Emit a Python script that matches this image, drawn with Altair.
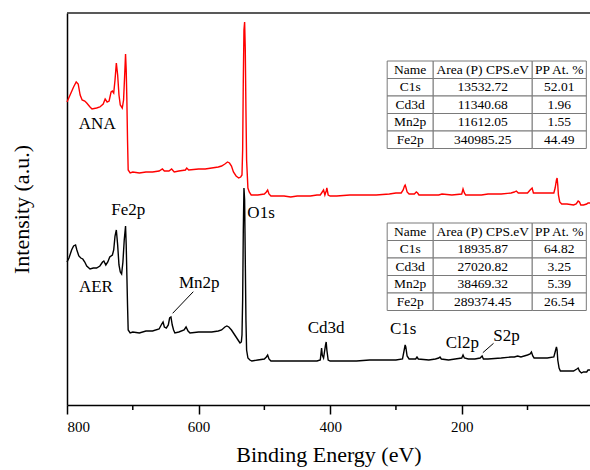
import altair as alt
import pandas as pd

# ---------------- data ----------------
be_ana = [800, 796, 790, 786, 783, 780, 777, 773, 770, 765, 762, 755, 750, 745, 742, 739, 736, 733, 731, 729,
          727, 725, 723, 721, 719, 716, 714, 712, 711, 710, 709, 708, 707, 704, 700, 690, 680, 670, 660, 655,
          652, 645, 641, 637, 630, 620, 618, 615, 600, 590, 580, 570, 565, 560, 556, 553, 550, 547, 543, 539,
          536, 534, 533, 532, 531, 530, 529, 528, 527, 525, 523, 520, 510, 500, 497, 495, 493, 490, 480, 470,
          460, 450, 440, 430, 420, 415, 412, 410, 408, 406, 405, 403, 400, 390, 370, 350, 330, 310, 300, 292,
          289, 287, 286, 285, 283, 280, 272, 269, 267, 265, 250, 235, 230, 215, 200, 198, 196, 194, 180, 170,
          160, 140, 125, 120, 117, 114, 100, 96, 93, 91, 80, 70, 60, 58, 56, 55, 54, 53, 51, 48,
          40, 30, 26, 23, 21, 19, 15, 10, 8, 5]
i_ana = [303, 309, 318, 323, 321, 310, 305, 304, 302, 298, 296, 297, 298, 301, 306, 303, 304, 313, 314, 312,
         325, 342, 330, 310, 300, 297, 305, 335, 351, 335, 305, 265, 235, 232, 233, 232, 233, 233, 234, 236,
         234, 234, 236, 233, 234, 235, 237, 235, 236, 236, 237, 238, 239, 241, 243, 242, 239, 233, 229, 227,
         228, 230, 255, 325, 375, 383, 355, 295, 245, 217, 213, 210, 210, 211, 213, 215, 211, 209, 209, 209,
         208, 209, 209, 209, 210, 210, 213, 215, 210, 214, 217, 210, 209, 209, 210, 210, 210, 211, 212, 212,
         215, 219, 220, 218, 213, 211, 211, 213, 212, 210, 210, 210, 211, 210, 211, 216, 212, 210, 210, 210,
         211, 211, 212, 213, 214, 212, 212, 215, 217, 212, 212, 212, 212, 217, 225, 227, 220, 210, 203, 201,
         201, 200, 201, 204, 203, 200, 200, 201, 202, 202]

be_aer = [800, 797, 793, 790, 787, 785, 782, 779, 776, 773, 770, 765, 760, 755, 750, 746, 744, 741, 738, 735,
          731, 729, 727, 725, 723, 721, 719, 717, 715, 713, 711, 710, 709, 708, 707, 704, 700, 690, 680, 670,
          660, 656, 654, 652, 649, 646, 644, 642, 640, 638, 636, 630, 622, 619, 616, 613, 600, 590, 580, 570,
          565, 560, 557, 554, 550, 546, 542, 539, 537, 535, 534, 533, 532, 531, 530, 529, 528, 527, 525, 522,
          519, 510, 500, 497, 495, 493, 490, 480, 460, 440, 420, 415, 413, 412, 410, 407, 406, 405, 403, 400,
          380, 360, 340, 320, 300, 290, 288, 286, 285, 283, 280, 270, 268, 266, 250, 240, 235, 233, 231, 220,
          210, 200, 198, 196, 190, 180, 172, 169, 167, 160, 140, 125, 120, 115, 110, 100, 96, 94, 92, 90,
          80, 70, 60, 58, 56, 55, 54, 52, 50, 45, 40, 30, 25, 23, 21, 18, 15, 10, 8, 5]
i_aer = [143, 147, 155, 159, 160, 155, 149, 147, 146, 143, 139, 136, 137, 137, 139, 143, 144, 140, 143, 148,
         150, 155, 169, 175, 160, 140, 133, 131, 143, 165, 179, 160, 130, 100, 75, 72, 73, 72, 74, 74,
         76, 81, 83, 78, 77, 80, 87, 88, 80, 75, 72, 73, 75, 78, 74, 72, 73, 73, 73, 74,
         75, 78, 79, 78, 75, 71, 67, 64, 62, 63, 70, 105, 175, 217, 205, 145, 85, 55, 47, 45,
         44, 45, 46, 48, 50, 46, 44, 44, 44, 44, 44, 45, 57, 50, 47, 60, 63, 55, 45, 44,
         44, 44, 45, 45, 45, 46, 53, 60, 58, 49, 46, 46, 48, 46, 45, 46, 47, 48, 46, 45,
         46, 47, 50, 47, 46, 46, 47, 49, 46, 46, 47, 48, 48, 49, 48, 50, 51, 53, 49, 47,
         47, 47, 48, 53, 58, 55, 45, 37, 34, 34, 34, 34, 36, 37, 34, 32, 33, 33, 35, 35]

# peak labels
lab_text = ["ANA", "AER", "Fe2p", "O1s", "Mn2p", "Cd3d", "C1s", "Cl2p", "S2p"]
lab_be = [754, 756, 707, 505, 599, 406, 289, 199, 132]
lab_i = [281, 118, 195, 192, 122, 77, 76, 62, 69]

# leader lines (Mn2p, S2p)
lead_be = [608, 151.6]
lead_be2 = [639.4, 167.9]
lead_i = [113.3, 61.7]
lead_i2 = [91.7, 52.3]

# tables
tab_header = ["Name", "Area (P) CPS.eV", "PP At. %"]
tab_names = ["C1s", "Cd3d", "Mn2p", "Fe2p"]
ana_area = [13532.72, 11340.68, 11612.05, 340985.25]
ana_pp = [52.01, 1.96, 1.55, 44.49]
aer_area = [18935.87, 27020.82, 38469.32, 289374.45]
aer_pp = [64.82, 3.25, 5.39, 26.54]

minor_ticks = [700, 500, 300, 100]

# ---------------- layout constants ----------------
W, H = 523, 392
col_edges = [313.3, 243.3, 92.8, 10.6]   # in eV (table anchored in data space)
row_h = 17.5
tables = [(344, ana_area, ana_pp), (182, aer_area, aer_pp)]
FONT = "Liberation Serif"

spec = pd.concat([
    pd.DataFrame({"be": be_ana, "i": i_ana, "s": "ANA"}),
    pd.DataFrame({"be": be_aer, "i": i_aer, "s": "AER"}),
])

rows = []
for top, areas, pps in tables:
    table_rows = [tab_header] + [[n, f"{a:.2f}", f"{p:.2f}"] for n, a, p in zip(tab_names, areas, pps)]
    for r, row in enumerate(table_rows):
        for c, txt in enumerate(row):
            x1, x2 = col_edges[c], col_edges[c + 1]
            y1, y2 = top - r * row_h, top - (r + 1) * row_h
            rows.append({"be": x1, "be2": x2, "i": y1, "i2": y2, "t": txt,
                         "tx": (x1 + x2) / 2, "ty": (y1 + y2) / 2})
cells = pd.DataFrame(rows)

xs = alt.Scale(domain=[5, 800], reverse=True, nice=False, zero=False)
ys = alt.Scale(domain=[0, H], nice=False, zero=False)

x_axis = alt.Axis(values=[800, 600, 400, 200], title="Binding Energy (eV)", grid=False,
                  tickSize=9, tickColor="black", tickWidth=1.5, domainColor="black", domainWidth=1.5,
                  labelFont=FONT, labelFontSize=15, labelColor="black", labelPadding=5,
                  titleFont=FONT, titleFontSize=22, titleFontWeight="normal", titleColor="black",
                  titlePadding=10, format="d")
y_axis = alt.Axis(title="Intensity (a.u.)", labels=False, ticks=False, grid=False,
                  domainColor="black", domainWidth=1.5,
                  titleFont=FONT, titleFontSize=22, titleFontWeight="normal", titleColor="black",
                  titleX=-34)


def X(field):
    return alt.X(field, scale=xs, axis=x_axis, title="Binding Energy (eV)")


def Y(field):
    return alt.Y(field, scale=ys, axis=y_axis, title="Intensity (a.u.)")


lines = alt.Chart(spec).mark_line(strokeWidth=1.4).encode(
    x=X("be:Q"),
    y=Y("i:Q"),
    color=alt.Color("s:N", scale=alt.Scale(domain=["ANA", "AER"], range=["#ff0000", "#000000"]), legend=None),
    detail="s:N",
)

labels = alt.Chart(pd.DataFrame({"t": lab_text, "be": lab_be, "i": lab_i})).mark_text(
    font=FONT, fontSize=17, color="black", align="center", baseline="middle"
).encode(x=X("be:Q"), y=Y("i:Q"), text="t:N")

leaders = alt.Chart(pd.DataFrame({"be": lead_be, "be2": lead_be2, "i": lead_i, "i2": lead_i2})).mark_rule(
    color="black", strokeWidth=1
).encode(x=X("be:Q"), x2="be2:Q", y=Y("i:Q"), y2="i2:Q")

minors = alt.Chart(pd.DataFrame({"be": minor_ticks})).mark_rule(color="black", strokeWidth=1.5).encode(
    x=X("be:Q"), y=alt.value(H), y2=alt.value(H + 5))

top_border = alt.Chart(pd.DataFrame({"v": [0]})).mark_rule(color="#222222", strokeWidth=1.5).encode(
    x=alt.value(0), x2=alt.value(W + 5), y=alt.value(0))

cell_rects = alt.Chart(cells).mark_rect(fill="white", stroke="#7a7a7a", strokeWidth=1).encode(
    x=X("be:Q"), x2="be2:Q", y=Y("i:Q"), y2="i2:Q")
cell_text = alt.Chart(cells).mark_text(font=FONT, fontSize=13.5, color="black", align="center",
                                       baseline="middle").encode(
    x=X("tx:Q"), y=Y("ty:Q"), text="t:N")

chart = alt.layer(lines, minors, top_border, labels, leaders, cell_rects, cell_text).properties(
    width=W, height=H,
    padding={"left": 67, "top": 13, "right": 0, "bottom": 65},
    autosize=alt.AutoSizeParams(type="none"),
    background="white",
).configure(font=FONT).configure_axis(labelFont=FONT, titleFont=FONT).configure_view(stroke=None)

chart.save("out.html", embed_options={"renderer": "svg", "actions": False})
